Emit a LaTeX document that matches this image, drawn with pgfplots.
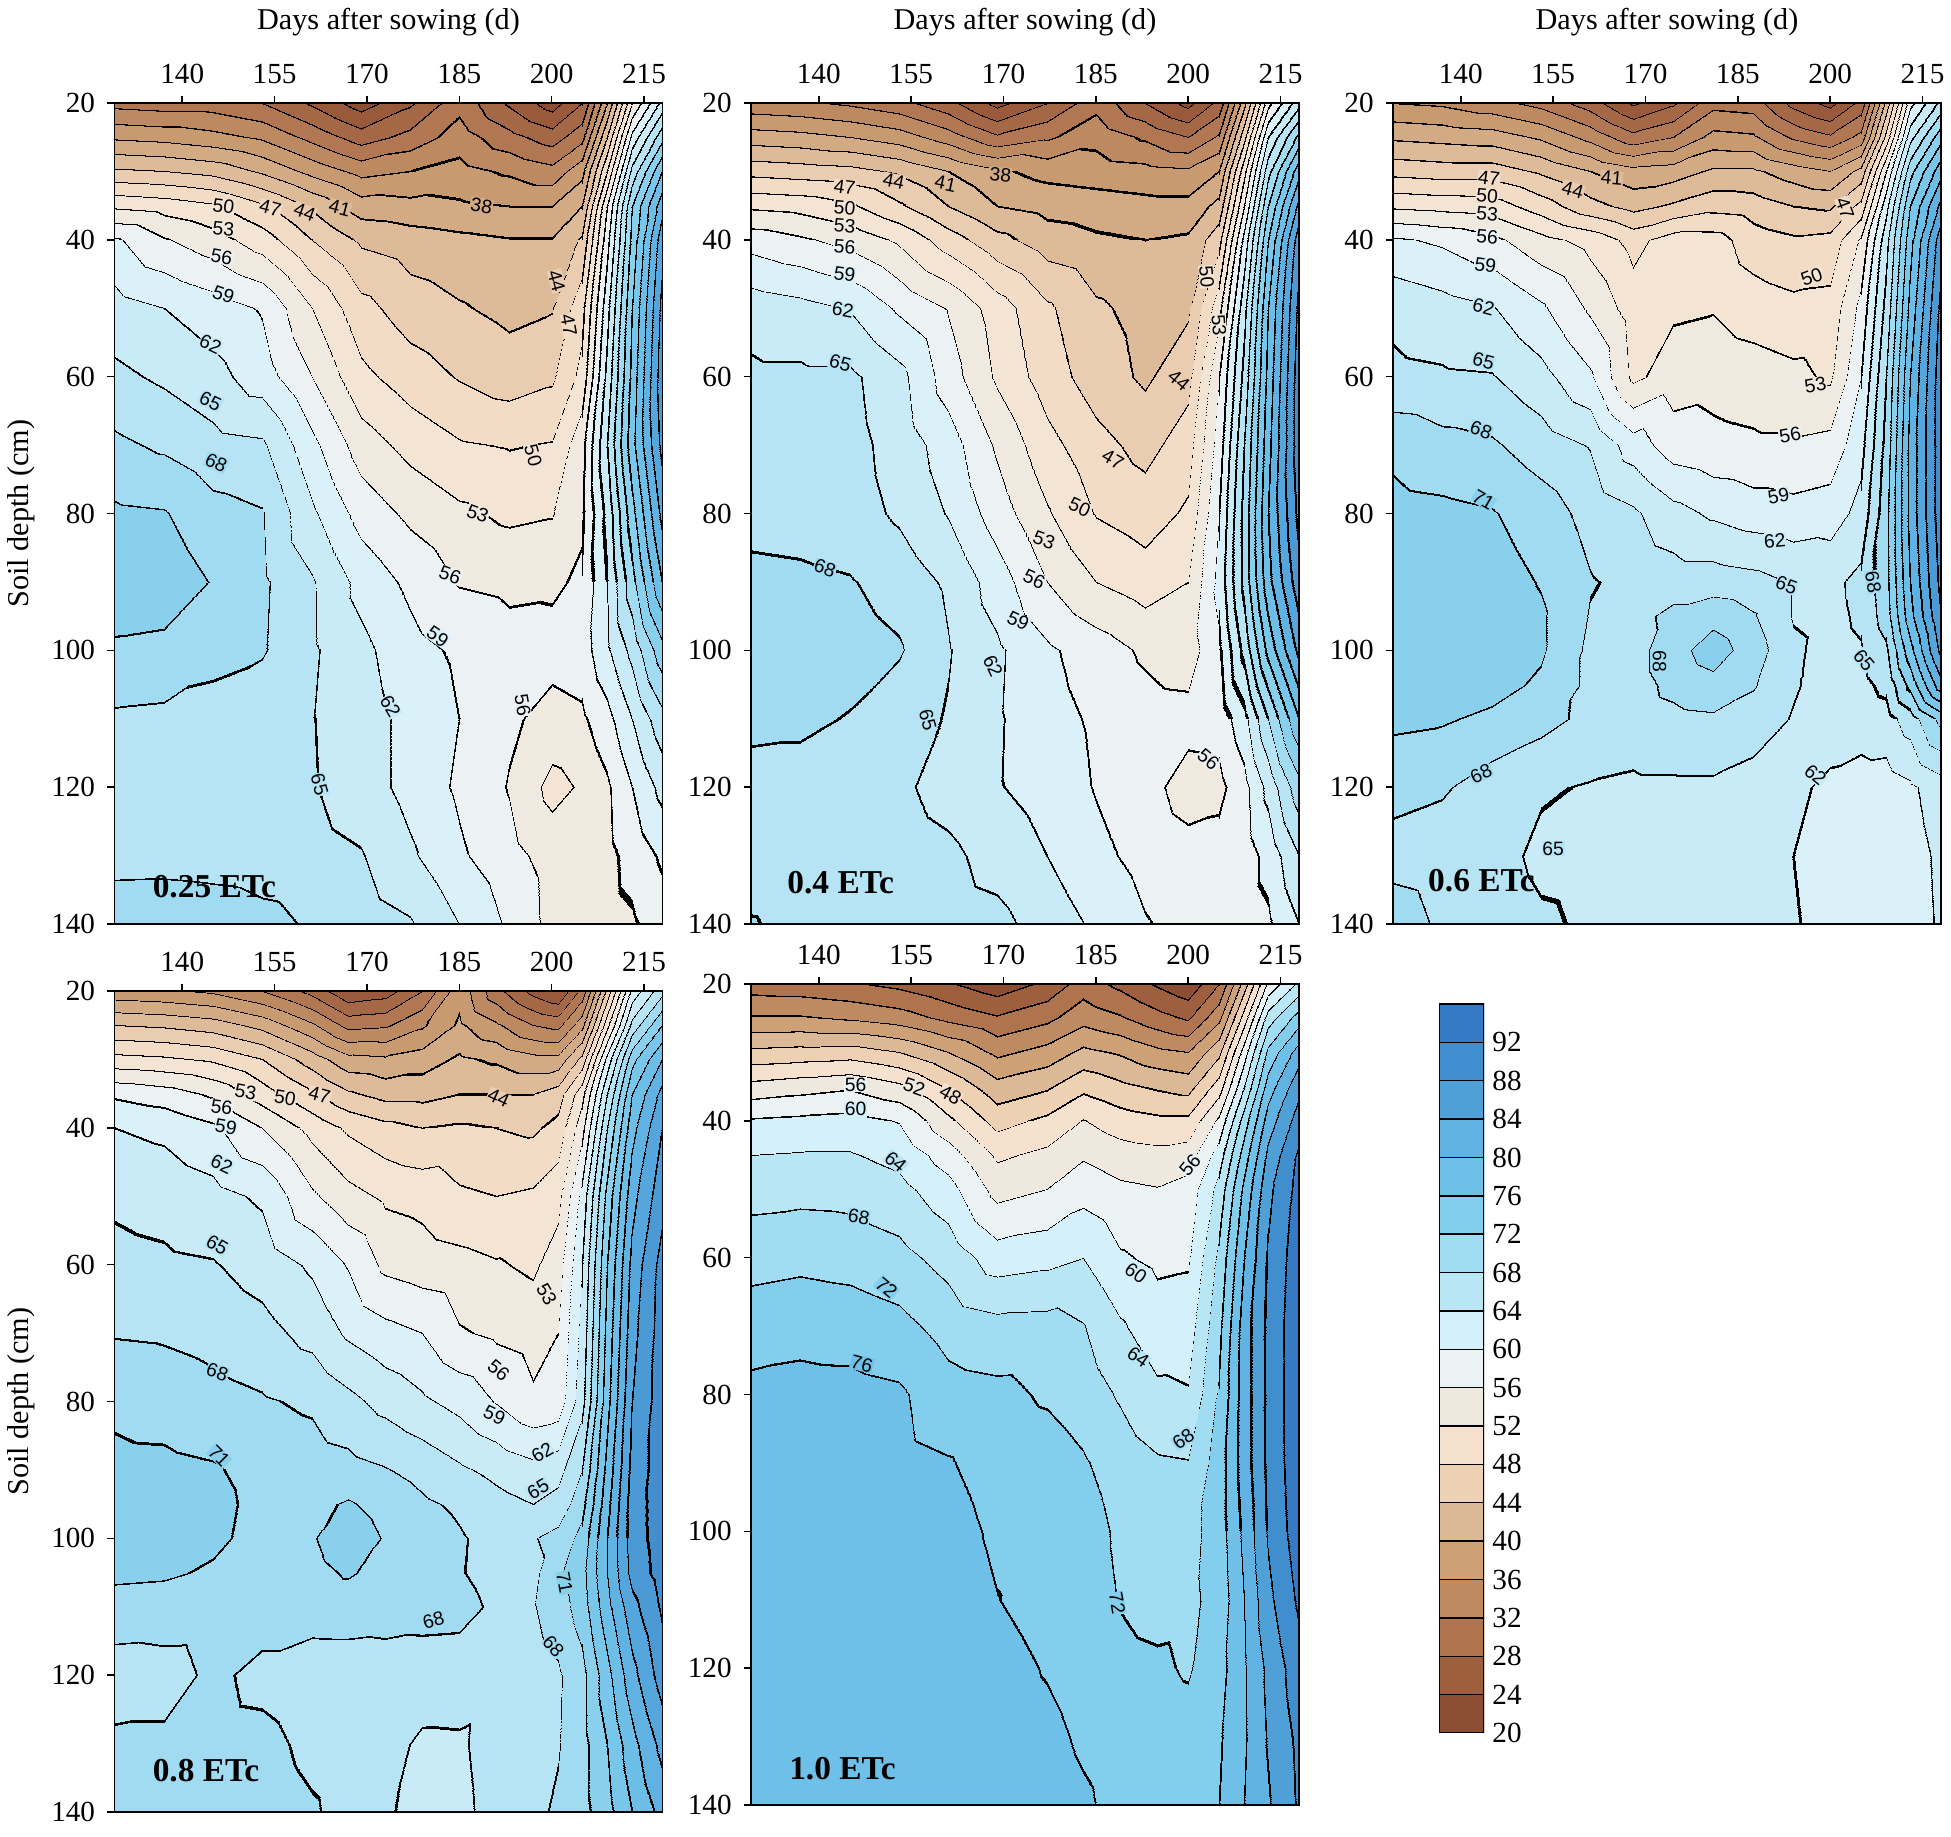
\documentclass[border=0pt]{standalone}
\usepackage{pgfplots}
\usepackage{pgfplotstable}
\pgfplotsset{compat=1.18}
\usepackage{fontspec}
\setmainfont{Liberation Serif}
\newfontfamily\labfont{Liberation Sans}

\definecolor{A20}{RGB}{140,78,50}\definecolor{A23}{RGB}{152,90,58}\definecolor{A26}{RGB}{164,104,70}
\definecolor{A29}{RGB}{176,119,82}\definecolor{A32}{RGB}{189,137,97}\definecolor{A35}{RGB}{200,154,112}
\definecolor{A38}{RGB}{210,170,132}\definecolor{A41}{RGB}{221,187,152}\definecolor{A44}{RGB}{234,205,176}
\definecolor{A47}{RGB}{243,220,198}\definecolor{A50}{RGB}{244,228,212}\definecolor{A53}{RGB}{239,233,224}
\definecolor{A56}{RGB}{236,242,243}\definecolor{A59}{RGB}{218,241,249}\definecolor{A62}{RGB}{200,235,247}
\definecolor{A65}{RGB}{182,228,244}\definecolor{A68}{RGB}{160,219,241}\definecolor{A71}{RGB}{137,208,237}
\definecolor{A74}{RGB}{120,198,234}\definecolor{A77}{RGB}{108,190,230}\definecolor{A80}{RGB}{96,178,226}
\definecolor{A83}{RGB}{85,166,220}\definecolor{A86}{RGB}{75,154,213}\definecolor{A89}{RGB}{66,142,206}
\definecolor{A92}{RGB}{57,125,198}\definecolor{A95}{RGB}{50,112,190}

\definecolor{B20}{RGB}{140,78,50}\definecolor{B24}{RGB}{158,95,62}\definecolor{B28}{RGB}{175,115,78}
\definecolor{B32}{RGB}{190,138,98}\definecolor{B36}{RGB}{205,160,118}\definecolor{B40}{RGB}{220,185,150}
\definecolor{B44}{RGB}{238,208,178}\definecolor{B48}{RGB}{245,225,205}\definecolor{B52}{RGB}{238,232,222}
\definecolor{B56}{RGB}{235,242,244}\definecolor{B60}{RGB}{212,240,250}\definecolor{B64}{RGB}{185,230,245}
\definecolor{B68}{RGB}{160,220,242}\definecolor{B72}{RGB}{130,206,236}\definecolor{B76}{RGB}{110,192,232}
\definecolor{B80}{RGB}{95,178,226}\definecolor{B84}{RGB}{80,160,216}\definecolor{B88}{RGB}{65,142,206}
\definecolor{B92}{RGB}{55,122,196}

% colormap builder: name, prefix, first level, list of line levels, end position, last level, half line width
\newcommand\mkcm[7]{%
  \gdef\cmspec{}%
  \foreach \L in {#4}{%
    \pgfmathsetmacro\cmlo{\L-#7}\pgfmathsetmacro\cmhi{\L+#7}%
    \xdef\cmspec{\cmspec color(\cmlo pt)=(black) color(\cmhi pt)=(#2\L) }%
  }%
  \edef\cmtmp{\noexpand\pgfplotsset{colormap={#1}{color(#3pt)=(#2#3) \cmspec color(#5pt)=(#2#6)}}}%
  \cmtmp
}
\mkcm{cmAa}{A}{20}{23,26,...,95}{98}{95}{0.04}
\mkcm{cmAb}{A}{20}{23,26,...,95}{98}{95}{0.11}
\mkcm{cmAc}{A}{20}{23,26,...,95}{98}{95}{0.15}
\mkcm{cmAd}{A}{20}{23,26,...,95}{98}{95}{0.28}
\mkcm{cmAe}{A}{20}{23,26,...,95}{98}{95}{0.33}
\mkcm{cmAf}{A}{20}{23,26,...,95}{98}{95}{0.4}
\mkcm{cmBa}{B}{20}{24,28,...,92}{96}{92}{0.045}
\mkcm{cmBb}{B}{20}{24,28,...,92}{96}{92}{0.15}
\mkcm{cmBc}{B}{20}{24,28,...,92}{96}{92}{0.17}
\mkcm{cmBd}{B}{20}{24,28,...,92}{96}{92}{0.37}

\pgfplotsset{
  panel/.style={
    scale only axis, width=54.8mm, height=82.1mm,
    xmin=129, xmax=218, ymin=20, ymax=140, y dir=reverse,
    xtick={140,155,170,185,200,215}, ytick={20,40,60,80,100,120,140},
    xtick pos=right, xticklabel pos=right, ytick pos=left, yticklabel pos=left,
    tick align=outside, major tick length=0.7mm,
    axis on top, axis line style={line width=0.45pt},
    every tick/.style={line width=0.45pt, black},
    tick label style={font=\fontsize{8.3}{9}\selectfont},
    /pgf/number format/assume math mode=true,
    xlabel style={font=\fontsize{8.6}{10}\selectfont, at={(axis description cs:0.5,1.099)}, anchor=center},
    ylabel style={font=\fontsize{8.6}{10}\selectfont, at={(axis description cs:-0.17,0.5)}, anchor=center},
    colormap access=piecewise constant,
    point meta min=20,
  },
  pA/.style={panel, colormap name=cmAa, point meta max=98},
  pB/.style={panel, colormap name=cmBa, point meta max=96},
  field/.style={surf, shader=interp, point meta=explicit, unbounded coords=jump},
}
\newcommand\cl[5]{\node[rotate=#3, fill=#5, inner sep=0.2pt, font=\labfont\fontsize{5.5}{6.2}\selectfont] at (axis cs:#1,#2) {#4};}
\newcommand\tagfont{\bfseries\fontsize{9.5}{11}\selectfont}
% one panel drawn in layers (same data), each with a line width suited to the local density of lines
% #1 table, #2 cols, #3 base map, #4 top map, #5 map 205-213, #6 map 213-218, #7 depth limit, #8 lower right map
\newcommand\layers[8]{%
  \addplot[field, mesh/cols=#2, colormap name=#3] table[x index=0, y index=1, meta index=2] {#1};
  \addplot[field, mesh/cols=#2, colormap name=#4, restrict x to domain=129:205, restrict y to domain=20:40] table[x index=0, y index=1, meta index=2] {#1};
  \addplot[field, mesh/cols=#2, colormap name=#5, restrict x to domain=205:213, restrict y to domain=20:#7] table[x index=0, y index=1, meta index=2] {#1};
  \addplot[field, mesh/cols=#2, colormap name=#6, restrict x to domain=213:218, restrict y to domain=20:#7] table[x index=0, y index=1, meta index=2] {#1};
  \addplot[field, mesh/cols=#2, colormap name=#8, restrict x to domain=205:218, restrict y to domain=#7:140] table[x index=0, y index=1, meta index=2] {#1};
}
% extra layer over a rectangle: table, cols, map, x from, x to, depth from, depth to
\newcommand\patch[7]{%
  \addplot[field, mesh/cols=#2, colormap name=#3, restrict x to domain=#4:#5, restrict y to domain=#6:#7] table[x index=0, y index=1, meta index=2] {#1};
}

% ---------------- data: x (days)  depth (cm)  water value
\pgfplotstableread[header=false, row sep=\\]{
129 20 31\\ 137 20 30.5\\ 145 20 30.5\\ 153 20 29\\ 161 20 25.5\\ 169 20 21.5\\ 177 20 25.5\\ 185 20 31\\ 193 20 25.5\\ 200 20 21.5\\ 205 20 26\\ 209 20 38\\ 213 20 53\\ 218 20 63\\
129 25 37.5\\ 137 25 37\\ 145 25 36\\ 153 25 34.5\\ 161 25 31\\ 169 25 27.5\\ 177 25 30\\ 185 25 33.5\\ 193 25 30\\ 200 25 27.5\\ 205 25 31\\ 209 25 44\\ 213 25 60\\ 218 25 70\\
129 30 44.5\\ 137 30 44\\ 145 30 43\\ 153 30 40.5\\ 161 30 37\\ 169 30 34\\ 177 30 35\\ 185 30 36\\ 193 30 34.5\\ 200 30 33\\ 205 30 37\\ 209 30 50\\ 213 30 66\\ 218 30 77\\
129 35 52.5\\ 137 35 51.8\\ 145 35 50.5\\ 153 35 47.5\\ 161 35 43.5\\ 169 35 39.5\\ 177 35 39\\ 185 35 38.5\\ 193 35 38\\ 200 35 38\\ 205 35 41\\ 209 35 56\\ 213 35 71\\ 218 35 82\\
129 40 59.5\\ 137 40 56.3\\ 145 40 54.3\\ 153 40 51.5\\ 161 40 47\\ 169 40 43.5\\ 177 40 42.5\\ 185 40 41.8\\ 193 40 41.2\\ 200 40 41.2\\ 205 40 44.5\\ 209 40 58\\ 213 40 72\\ 218 40 85\\
129 50 63.2\\ 137 50 62\\ 145 50 60.5\\ 153 50 58.7\\ 161 50 53\\ 169 50 48\\ 177 50 45.5\\ 185 50 44.3\\ 193 50 43.2\\ 200 50 43.8\\ 205 50 49\\ 209 50 61\\ 213 50 74\\ 218 50 87\\
129 60 65.7\\ 137 60 64.5\\ 145 60 63\\ 153 60 60.5\\ 161 60 56\\ 169 60 50.8\\ 177 60 48.5\\ 185 60 46.8\\ 193 60 45.5\\ 200 60 46.5\\ 205 60 51\\ 209 60 63\\ 213 60 75\\ 218 60 88\\
129 70 68.6\\ 137 70 67.5\\ 145 70 66\\ 153 70 65.5\\ 161 70 59.8\\ 169 70 54.5\\ 177 70 52\\ 185 70 50.3\\ 193 70 49.8\\ 200 70 50.2\\ 205 70 55\\ 209 70 65\\ 213 70 76\\ 218 70 87\\
129 80 71.5\\ 137 80 71.2\\ 145 80 69\\ 153 80 68.2\\ 161 80 62.5\\ 169 80 57.8\\ 177 80 55.3\\ 185 80 53.6\\ 193 80 52.4\\ 200 80 52.8\\ 205 80 55.5\\ 209 80 63\\ 213 80 73\\ 218 80 84\\
129 90 73\\ 137 90 72.8\\ 145 90 70.8\\ 153 90 68.5\\ 161 90 65.3\\ 169 90 61\\ 177 90 58.3\\ 185 90 55.8\\ 193 90 55.3\\ 200 90 55.5\\ 205 90 56.5\\ 209 90 62\\ 213 90 70\\ 218 90 80\\
129 100 70.5\\ 137 100 70.2\\ 145 100 68.8\\ 153 100 68.3\\ 161 100 65.4\\ 169 100 62.8\\ 177 100 60\\ 185 100 58.5\\ 193 100 57.2\\ 200 100 57\\ 205 100 57.5\\ 209 100 61.5\\ 213 100 66\\ 218 100 73\\
129 110 67.5\\ 137 110 67.3\\ 145 110 67\\ 153 110 66\\ 161 110 65.1\\ 169 110 63.5\\ 177 110 61\\ 185 110 59\\ 193 110 56.5\\ 200 110 55\\ 205 110 55.5\\ 209 110 58\\ 213 110 62\\ 218 110 67\\
129 120 66.5\\ 137 120 66.5\\ 145 120 66.3\\ 153 120 66\\ 161 120 65.2\\ 169 120 63.5\\ 177 120 61\\ 185 120 58.5\\ 193 120 55.8\\ 200 120 52\\ 205 120 53.4\\ 209 120 55.5\\ 213 120 59\\ 218 120 63\\
129 130 66.8\\ 137 130 66.9\\ 145 130 66.7\\ 153 130 66.4\\ 161 130 66\\ 169 130 65.2\\ 177 130 62.5\\ 185 130 59.5\\ 193 130 57\\ 200 130 54.8\\ 205 130 54.5\\ 209 130 55.2\\ 213 130 57\\ 218 130 59.5\\
129 140 70.2\\ 137 140 70.2\\ 145 140 69.9\\ 153 140 69\\ 161 140 67.6\\ 169 140 66.5\\ 177 140 65.3\\ 185 140 62\\ 193 140 58.5\\ 200 140 55\\ 205 140 54.8\\ 209 140 55\\ 213 140 55.6\\ 218 140 57.5\\
}\tabA

\pgfplotstableread[header=false, row sep=\\]{
129 20 33\\ 137 20 32.5\\ 145 20 31.5\\ 153 20 30\\ 161 20 27\\ 169 20 22\\ 177 20 26\\ 185 20 31\\ 193 20 26\\ 200 20 22\\ 205 20 27\\ 209 20 40\\ 213 20 55\\ 218 20 64\\
129 25 39.5\\ 137 25 39\\ 145 25 38\\ 153 25 36.5\\ 161 25 33.5\\ 169 25 29.5\\ 177 25 31.5\\ 185 25 34\\ 193 25 31.5\\ 200 25 29\\ 205 25 32.5\\ 209 25 46\\ 213 25 62\\ 218 25 72\\
129 30 46\\ 137 30 45.5\\ 145 30 45\\ 153 30 43.5\\ 161 30 41\\ 169 30 38.5\\ 177 30 37\\ 185 30 36.5\\ 193 30 36\\ 200 30 35.5\\ 205 30 38\\ 209 30 52\\ 213 30 67\\ 218 30 79\\
129 35 52.5\\ 137 35 52\\ 145 35 50.5\\ 153 35 47.5\\ 161 35 44\\ 169 35 41\\ 177 35 40\\ 185 35 39.5\\ 193 35 39\\ 200 35 39\\ 205 35 42\\ 209 35 56\\ 213 35 71\\ 218 35 84\\
129 40 57.8\\ 137 40 56.5\\ 145 40 55\\ 153 40 52.5\\ 161 40 48.5\\ 169 40 45\\ 177 40 42.5\\ 185 40 41.5\\ 193 40 41\\ 200 40 41.5\\ 205 40 46\\ 209 40 60\\ 213 40 74\\ 218 40 88\\
129 50 63.8\\ 137 50 63\\ 145 50 61.8\\ 153 50 58.5\\ 161 50 55.8\\ 169 50 51.5\\ 177 50 47.5\\ 185 50 44.5\\ 193 50 43\\ 200 50 43.5\\ 205 50 52\\ 209 50 64\\ 213 50 77\\ 218 50 90\\
129 60 65.6\\ 137 60 65.6\\ 145 60 65.6\\ 153 60 63\\ 161 60 57.5\\ 169 60 52.5\\ 177 60 48.5\\ 185 60 45.5\\ 193 60 43.5\\ 200 60 46\\ 205 60 56\\ 209 60 66\\ 213 60 78\\ 218 60 91\\
129 70 65.9\\ 137 70 66\\ 145 70 66\\ 153 70 63.8\\ 161 70 60.5\\ 169 70 55.5\\ 177 70 51\\ 185 70 48\\ 193 70 46\\ 200 70 48.5\\ 205 70 57.5\\ 209 70 68\\ 213 70 79\\ 218 70 91\\
129 80 67\\ 137 80 66.8\\ 145 80 66.3\\ 153 80 64.5\\ 161 80 61.8\\ 169 80 57.5\\ 177 80 53.3\\ 185 80 49.8\\ 193 80 48.5\\ 200 80 50.5\\ 205 80 59\\ 209 80 69\\ 213 80 80\\ 218 80 90\\
129 90 68.8\\ 137 90 68.6\\ 145 90 68.2\\ 153 90 66.8\\ 161 90 64.5\\ 169 90 60.5\\ 177 90 56\\ 185 90 53\\ 193 90 51.5\\ 200 90 53\\ 205 90 60\\ 209 90 69\\ 213 90 79\\ 218 90 88\\
129 100 70\\ 137 100 69.8\\ 145 100 69.3\\ 153 100 68.3\\ 161 100 65.2\\ 169 100 62.5\\ 177 100 59.5\\ 185 100 57.5\\ 193 100 55.5\\ 200 100 54.5\\ 205 100 58.5\\ 209 100 66\\ 213 100 75\\ 218 100 84\\
129 110 68.8\\ 137 110 68.6\\ 145 110 67.8\\ 153 110 66.2\\ 161 110 64.8\\ 169 110 62.3\\ 177 110 60.2\\ 185 110 58.5\\ 193 110 57.2\\ 200 110 57\\ 205 110 57.2\\ 209 110 61\\ 213 110 68\\ 218 110 77\\
129 120 66.8\\ 137 120 66.8\\ 145 120 66.8\\ 153 120 65.6\\ 161 120 63.8\\ 169 120 62.2\\ 177 120 60.8\\ 185 120 58.8\\ 193 120 57\\ 200 120 54.8\\ 205 120 55.2\\ 209 120 58\\ 213 120 63\\ 218 120 70\\
129 130 66.6\\ 137 130 66.4\\ 145 130 66.4\\ 153 130 66.6\\ 161 130 65.7\\ 169 130 63.8\\ 177 130 62\\ 185 130 59.8\\ 193 130 58\\ 200 130 57\\ 205 130 57.2\\ 209 130 57.5\\ 213 130 60\\ 218 130 65\\
129 140 68.2\\ 137 140 67.2\\ 145 140 66.8\\ 153 140 66.7\\ 161 140 66.5\\ 169 140 65.9\\ 177 140 63.6\\ 185 140 61.5\\ 193 140 59.2\\ 200 140 58\\ 205 140 57.5\\ 209 140 57.5\\ 213 140 58.5\\ 218 140 62\\
}\tabB

\pgfplotstableread[header=false, row sep=\\]{
129 20 35\\ 137 20 34.5\\ 145 20 33\\ 153 20 31\\ 161 20 27.5\\ 168 20 22.5\\ 174.5 20 25.5\\ 181 20 31\\ 187.5 20 30.5\\ 194 20 25\\ 200 20 22\\ 205 20 27\\ 209 20 42\\ 213 20 58\\ 218 20 66\\
129 25 40.5\\ 137 25 40\\ 145 25 39.5\\ 153 25 37.5\\ 161 25 34\\ 168 25 30\\ 174.5 25 32\\ 181 25 36\\ 187.5 25 35.5\\ 194 25 31.5\\ 200 25 29.5\\ 205 25 33\\ 209 25 48\\ 213 25 64\\ 218 25 73\\
129 30 46\\ 137 30 45.5\\ 145 30 45.5\\ 153 30 43.5\\ 161 30 41\\ 168 30 39\\ 174.5 30 39.5\\ 181 30 41.5\\ 187.5 30 41.5\\ 194 30 39.5\\ 200 30 38\\ 205 30 42\\ 209 30 56\\ 213 30 70\\ 218 30 79\\
129 35 52.5\\ 137 35 52\\ 145 35 51.5\\ 153 35 48.5\\ 161 35 45\\ 168 35 43\\ 174.5 35 44.5\\ 181 35 46\\ 187.5 35 45.5\\ 194 35 44\\ 200 35 43.5\\ 205 35 48\\ 209 35 61\\ 213 35 74\\ 218 35 84\\
129 40 59.5\\ 137 40 58.5\\ 145 40 56.8\\ 153 40 54\\ 161 40 52\\ 168 40 49\\ 174.5 40 51.5\\ 181 40 51.3\\ 187.5 40 48.5\\ 194 40 47.5\\ 200 40 48\\ 205 40 53.5\\ 209 40 64\\ 213 40 76\\ 218 40 88\\
129 50 64.2\\ 137 50 63.2\\ 145 50 62.2\\ 153 50 59.5\\ 161 50 55.5\\ 168 50 51.5\\ 174.5 50 52.5\\ 181 50 52.8\\ 187.5 50 51.5\\ 194 50 50.8\\ 200 50 51\\ 205 50 57\\ 209 50 66\\ 213 50 78\\ 218 50 90\\
129 60 65.7\\ 137 60 65.4\\ 145 60 65.2\\ 153 60 63\\ 161 60 59.5\\ 168 60 52.3\\ 174.5 60 54.5\\ 181 60 55\\ 187.5 60 54.5\\ 194 60 53.8\\ 200 60 52.5\\ 205 60 59\\ 209 60 68\\ 213 60 80\\ 218 60 91\\
129 70 70.2\\ 137 70 69\\ 145 70 68.4\\ 153 70 66.5\\ 161 70 64.8\\ 168 70 60.5\\ 174.5 70 57.5\\ 181 70 56.8\\ 187.5 70 56.5\\ 194 70 56.5\\ 200 70 57\\ 205 70 61\\ 209 70 69\\ 213 70 81\\ 218 70 91\\
129 80 72\\ 137 80 71.7\\ 145 80 71.2\\ 153 80 69.5\\ 161 80 67\\ 168 80 65.5\\ 174.5 80 63\\ 181 80 61.5\\ 187.5 80 60.5\\ 194 80 60\\ 200 80 60.5\\ 205 80 63\\ 209 80 70\\ 213 80 81\\ 218 80 91\\
129 90 73.2\\ 137 90 73\\ 145 90 72.4\\ 153 90 70.8\\ 161 90 68.2\\ 168 90 67.3\\ 174.5 90 66.5\\ 181 90 66.5\\ 187.5 90 66\\ 194 90 64.8\\ 200 90 64.3\\ 205 90 65.8\\ 209 90 70\\ 213 90 80\\ 218 90 90\\
129 95 73.5\\ 137 95 73.3\\ 145 95 72.8\\ 153 95 71.4\\ 161 95 67.8\\ 168 95 67\\ 174.5 95 68.8\\ 181 95 70\\ 187.5 95 68.3\\ 194 95 64.8\\ 200 95 64.2\\ 205 95 65.5\\ 209 95 69.5\\ 213 95 79\\ 218 95 89\\
129 100 73.4\\ 137 100 73.2\\ 145 100 72.6\\ 153 100 71.4\\ 161 100 67.3\\ 168 100 66.8\\ 174.5 100 69.8\\ 181 100 72.5\\ 187.5 100 69.5\\ 194 100 65.5\\ 200 100 64\\ 205 100 64.8\\ 209 100 67.5\\ 213 100 76\\ 218 100 87\\
129 105 73\\ 137 105 72.8\\ 145 105 72\\ 153 105 70.5\\ 161 105 67.3\\ 168 105 66.8\\ 174.5 105 68.8\\ 181 105 70\\ 187.5 105 68.3\\ 194 105 65.3\\ 200 105 63.8\\ 205 105 64.2\\ 209 105 65.8\\ 213 105 72\\ 218 105 82\\
129 110 71.6\\ 137 110 71.3\\ 145 110 70.4\\ 153 110 69\\ 161 110 67.2\\ 168 110 66.5\\ 174.5 110 67.2\\ 181 110 67.5\\ 187.5 110 66.5\\ 194 110 64.8\\ 200 110 63.5\\ 205 110 63.3\\ 209 110 63.8\\ 213 110 66.5\\ 218 110 72\\
129 120 69\\ 137 120 68.4\\ 145 120 66.5\\ 153 120 65.3\\ 161 120 64.8\\ 168 120 64.5\\ 174.5 120 64.5\\ 181 120 64.5\\ 187.5 120 63.8\\ 194 120 62.6\\ 200 120 61.4\\ 205 120 60.8\\ 209 120 60.6\\ 213 120 61.5\\ 218 120 63.5\\
129 130 66.8\\ 137 130 66.2\\ 145 130 66\\ 153 130 64.4\\ 161 130 64.2\\ 168 130 64.2\\ 174.5 130 64.3\\ 181 130 64\\ 187.5 130 63.3\\ 194 130 62\\ 200 130 61\\ 205 130 60.5\\ 209 130 60.4\\ 213 130 60.8\\ 218 130 62.6\\
129 140 69.8\\ 137 140 67.4\\ 145 140 66.6\\ 153 140 65.4\\ 161 140 64.6\\ 168 140 64.8\\ 174.5 140 64.8\\ 181 140 64.5\\ 187.5 140 63.5\\ 194 140 62.2\\ 200 140 61.2\\ 205 140 60.5\\ 209 140 60.4\\ 213 140 60.7\\ 218 140 62.4\\
}\tabC

\pgfplotstableread[header=false, row sep=\\]{
129 20 36\\ 137 20 35.5\\ 145 20 34.5\\ 153 20 32\\ 161 20 28\\ 167 20 23.5\\ 173 20 24.5\\ 179 20 29\\ 185 20 37\\ 191 20 30\\ 197 20 25\\ 201 20 23\\ 205 20 30\\ 209 20 45\\ 213 20 60\\ 218 20 67\\
129 25 44\\ 137 25 43.5\\ 145 25 42.5\\ 153 25 40\\ 161 25 35.5\\ 167 25 31\\ 173 25 31.5\\ 179 25 34.5\\ 185 25 38.5\\ 191 25 35.5\\ 197 25 32\\ 201 25 31\\ 205 25 37\\ 209 25 52\\ 213 25 66\\ 218 25 74\\
129 30 51\\ 137 30 50.5\\ 145 30 49.5\\ 153 30 47\\ 161 30 42.5\\ 167 30 39\\ 173 30 38.5\\ 179 30 39.5\\ 185 30 41.5\\ 191 30 40.5\\ 197 30 39\\ 201 30 39\\ 205 30 45\\ 209 30 60\\ 213 30 73\\ 218 30 80\\
129 35 58.5\\ 137 35 57.5\\ 145 35 55.5\\ 153 35 51.5\\ 161 35 47.5\\ 167 35 44.5\\ 173 35 43\\ 179 35 43\\ 185 35 44\\ 191 35 44\\ 197 35 44\\ 201 35 45.5\\ 205 35 52\\ 209 35 65\\ 213 35 77\\ 218 35 84\\
129 40 62\\ 137 40 61.3\\ 145 40 59.6\\ 153 40 56\\ 161 40 52\\ 167 40 49.5\\ 173 40 48\\ 179 40 47\\ 185 40 47.5\\ 191 40 47\\ 197 40 46.5\\ 201 40 48\\ 205 40 55\\ 209 40 68\\ 213 40 79\\ 218 40 86\\
129 50 64.5\\ 137 50 64\\ 145 50 63\\ 153 50 61.5\\ 161 50 56.5\\ 167 50 54\\ 173 50 52.5\\ 179 50 52\\ 185 50 50.5\\ 191 50 50\\ 197 50 50.5\\ 201 50 52\\ 205 50 60\\ 209 50 72\\ 213 50 82\\ 218 50 88\\
129 60 65.8\\ 137 60 65.5\\ 145 60 65.2\\ 153 60 63.8\\ 161 60 61.5\\ 167 60 58.8\\ 173 60 55.3\\ 179 60 54.5\\ 185 60 54\\ 191 60 53.3\\ 197 60 52.5\\ 201 60 54.5\\ 205 60 62\\ 209 60 74\\ 213 60 84\\ 218 60 90.2\\
129 70 67.8\\ 137 70 67.6\\ 145 70 67\\ 153 70 66\\ 161 70 64\\ 167 70 61.5\\ 173 70 60\\ 179 70 59\\ 185 70 56.3\\ 191 70 55.5\\ 197 70 54.8\\ 201 70 56\\ 205 70 63\\ 209 70 75\\ 213 70 85\\ 218 70 90.5\\
129 80 70.3\\ 137 80 69.8\\ 145 80 69\\ 153 80 68.3\\ 161 80 67.5\\ 167 80 65.8\\ 173 80 64\\ 179 80 62.5\\ 185 80 61\\ 191 80 58.8\\ 197 80 56.5\\ 201 80 57\\ 205 80 64\\ 209 80 76\\ 213 80 86\\ 218 80 90.7\\
129 90 71.8\\ 137 90 71.7\\ 145 90 71.3\\ 153 90 70\\ 161 90 69.5\\ 167 90 69\\ 173 90 68.2\\ 179 90 67\\ 185 90 65.5\\ 191 90 64.2\\ 197 90 63\\ 201 90 64\\ 205 90 68\\ 209 90 78\\ 213 90 87\\ 218 90 90.7\\
129 95 72.5\\ 137 95 72.4\\ 145 95 71.8\\ 153 95 70.2\\ 161 95 70.3\\ 167 95 71.3\\ 173 95 70\\ 179 95 68.5\\ 185 95 67.5\\ 191 95 66\\ 197 95 65\\ 201 95 66\\ 205 95 70\\ 209 95 79\\ 213 95 87.5\\ 218 95 90.6\\
129 100 72.5\\ 137 100 72.3\\ 145 100 71.6\\ 153 100 70\\ 161 100 70.8\\ 167 100 72.5\\ 173 100 70.8\\ 179 100 69.5\\ 185 100 68.3\\ 191 100 67\\ 197 100 67.8\\ 201 100 69\\ 205 100 72\\ 209 100 80\\ 213 100 87.5\\ 218 100 90.5\\
129 105 71.6\\ 137 105 71.4\\ 145 105 70.6\\ 153 105 69.3\\ 161 105 70.2\\ 167 105 71.3\\ 173 105 70\\ 179 105 69\\ 185 105 68.2\\ 191 105 67\\ 197 105 67.2\\ 201 105 70.5\\ 205 105 73\\ 209 105 80\\ 213 105 87\\ 218 105 90.3\\
129 110 69.8\\ 137 110 69.6\\ 145 110 69.5\\ 153 110 69.4\\ 161 110 69.4\\ 167 110 69.5\\ 173 110 69.3\\ 179 110 69\\ 185 110 68.9\\ 191 110 67.5\\ 197 110 67.8\\ 201 110 69.5\\ 205 110 72.5\\ 209 110 79\\ 213 110 85\\ 218 110 89.5\\
129 120 66.5\\ 137 120 66.8\\ 145 120 68.6\\ 153 120 67.2\\ 161 120 66.3\\ 167 120 66.3\\ 173 120 66.5\\ 179 120 66.6\\ 185 120 66.5\\ 191 120 66\\ 197 120 66.8\\ 201 120 67.6\\ 205 120 70\\ 209 120 76\\ 213 120 82\\ 218 120 87.5\\
129 130 68.6\\ 137 130 68.6\\ 145 130 69\\ 153 130 68.8\\ 161 130 67.3\\ 167 130 66.8\\ 173 130 66\\ 179 130 64.5\\ 185 130 64.6\\ 191 130 66.2\\ 197 130 67\\ 201 130 67.8\\ 205 130 70\\ 209 130 74\\ 213 130 79\\ 218 130 84\\
129 140 69\\ 137 140 69.2\\ 145 140 69.6\\ 153 140 69.4\\ 161 140 68.3\\ 167 140 67\\ 173 140 65.3\\ 179 140 64.2\\ 185 140 64.3\\ 191 140 66\\ 197 140 67.4\\ 201 140 68.4\\ 205 140 70\\ 209 140 73\\ 213 140 77\\ 218 140 81\\
}\tabD

\pgfplotstableread[header=false, row sep=\\]{
129 20 30\\ 137 20 29.5\\ 145 20 28.5\\ 153 20 27\\ 161 20 24.5\\ 169 20 21.5\\ 177 20 25\\ 183 20 30\\ 189 20 27\\ 195 20 23.5\\ 200 20 21\\ 205 20 28\\ 209 20 42\\ 213 20 57\\ 218 20 65\\
129 25 36.5\\ 137 25 36.5\\ 145 25 35.5\\ 153 25 34\\ 161 25 31\\ 169 25 28.5\\ 177 25 31\\ 183 25 34.5\\ 189 25 32.5\\ 195 25 29.5\\ 200 25 27.5\\ 205 25 35\\ 209 25 50\\ 213 25 66\\ 218 25 74\\
129 30 45\\ 137 30 45.5\\ 145 30 46\\ 153 30 44\\ 161 30 40\\ 169 30 35\\ 177 30 37.5\\ 183 30 41\\ 189 30 39.5\\ 195 30 37\\ 200 30 36\\ 205 30 43\\ 209 30 58\\ 213 30 73\\ 218 30 82\\
129 35 53.5\\ 137 35 54.5\\ 145 35 55.5\\ 153 35 53\\ 161 35 47.5\\ 169 35 41.5\\ 177 35 43.5\\ 183 35 47\\ 189 35 45\\ 195 35 43.5\\ 200 35 42.5\\ 205 35 50\\ 209 35 64\\ 213 35 78\\ 218 35 87\\
129 40 60.5\\ 137 40 61\\ 145 40 61.5\\ 153 40 59.8\\ 161 40 53\\ 169 40 46.5\\ 177 40 49\\ 183 40 52.2\\ 189 40 50\\ 195 40 49\\ 200 40 49\\ 205 40 57\\ 209 40 70\\ 213 40 82\\ 218 40 90\\
129 45 64\\ 137 45 64.3\\ 145 45 64.3\\ 153 45 62.8\\ 161 45 58\\ 169 45 51.3\\ 177 45 53\\ 183 45 55.5\\ 189 45 53.8\\ 195 45 53.2\\ 200 45 54\\ 205 45 62\\ 209 45 74\\ 213 45 85\\ 218 45 92.8\\
129 50 66.5\\ 137 50 66.8\\ 145 50 66.6\\ 153 50 65.2\\ 161 50 61.5\\ 169 50 54.5\\ 177 50 56\\ 183 50 58.5\\ 189 50 56.8\\ 195 50 56.2\\ 200 50 57.5\\ 205 50 65.5\\ 209 50 77\\ 213 50 87\\ 218 50 93.5\\
129 60 70.5\\ 137 60 71\\ 145 60 70.5\\ 153 60 69.3\\ 161 60 66.5\\ 169 60 62\\ 177 60 62.8\\ 183 60 64\\ 189 60 60.5\\ 195 60 59.2\\ 200 60 59.5\\ 205 60 69\\ 209 60 80\\ 213 60 88.5\\ 218 60 94.5\\
129 70 74.2\\ 137 70 74.7\\ 145 70 74.3\\ 153 70 73.2\\ 161 70 70.5\\ 169 70 69.3\\ 177 70 69.5\\ 183 70 68.2\\ 189 70 64.5\\ 195 70 61.8\\ 200 70 62\\ 205 70 71\\ 209 70 82\\ 213 70 89\\ 218 70 95\\
129 80 77\\ 137 80 77.3\\ 145 80 77.2\\ 153 80 76.6\\ 161 80 73.5\\ 169 80 73\\ 177 80 71.5\\ 183 80 70.2\\ 189 80 67.5\\ 195 80 64.8\\ 200 80 64.3\\ 205 80 72.5\\ 209 80 82\\ 213 80 89\\ 218 80 95\\
129 90 77.8\\ 137 90 78\\ 145 90 78\\ 153 90 77.2\\ 161 90 76.3\\ 169 90 74.3\\ 177 90 73.8\\ 183 90 72.4\\ 189 90 70.2\\ 195 90 68.5\\ 200 90 68.2\\ 205 90 74\\ 209 90 82\\ 213 90 89\\ 218 90 94.8\\
129 100 78.2\\ 137 100 78.3\\ 145 100 78.3\\ 153 100 78\\ 161 100 77.5\\ 169 100 75.3\\ 177 100 74.6\\ 183 100 73.8\\ 189 100 71.3\\ 195 100 70\\ 200 100 70.5\\ 205 100 74\\ 209 100 81\\ 213 100 88.5\\ 218 100 94.3\\
129 110 78.3\\ 137 110 78.4\\ 145 110 78.4\\ 153 110 78.3\\ 161 110 78.2\\ 169 110 76.1\\ 177 110 74.4\\ 183 110 74\\ 189 110 71.8\\ 195 110 70.8\\ 200 110 71\\ 205 110 73.5\\ 209 110 80\\ 213 110 87\\ 218 110 92.8\\
129 120 78.5\\ 137 120 78.6\\ 145 120 78.6\\ 153 120 78.5\\ 161 120 78.4\\ 169 120 77.5\\ 177 120 75.7\\ 183 120 74.3\\ 189 120 73\\ 195 120 72.6\\ 200 120 71.6\\ 205 120 74.5\\ 209 120 79.5\\ 213 120 85\\ 218 120 90.5\\
129 130 78.7\\ 137 130 78.8\\ 145 130 78.8\\ 153 130 78.7\\ 161 130 78.6\\ 169 130 78.2\\ 177 130 77\\ 183 130 75.4\\ 189 130 74.3\\ 195 130 73.8\\ 200 130 73.5\\ 205 130 75.5\\ 209 130 79.5\\ 213 130 84.4\\ 218 130 89\\
129 140 79\\ 137 140 79\\ 145 140 79\\ 153 140 79\\ 161 140 78.8\\ 169 140 78.6\\ 177 140 77.9\\ 183 140 76.6\\ 189 140 74.8\\ 195 140 74.6\\ 200 140 74.5\\ 205 140 76\\ 209 140 80\\ 213 140 83.6\\ 218 140 88.6\\
}\tabE

\begin{document}
\begin{tikzpicture}
\useasboundingbox (0,0) rectangle (195.1mm,183.7mm);

% ---------------- 0.25 ETc
\begin{axis}[pA, at={(11.45mm,91.3mm)}, anchor=south west, xlabel={Days after sowing (d)}, ylabel={Soil depth (cm)}]
\layers{\tabA}{14}{cmAa}{cmAb}{cmAf}{cmAd}{90}{cmAb}
\patch{\tabA}{14}{cmAc}{209}{218}{90}{100}
\cl{146.7}{35.1}{-8}{50}{A50}\cl{154.3}{35.4}{-15}{47}{A47}\cl{159.9}{35.9}{-20}{44}{A44}
\cl{165.6}{35.3}{-15}{41}{A41}\cl{188.6}{35}{-10}{38}{A38}\cl{146.7}{38.4}{-5}{53}{A53}
\cl{146.4}{42.5}{-10}{56}{A56}\cl{146.7}{48}{-20}{59}{A59}\cl{144.6}{55.3}{-25}{62}{A62}
\cl{144.6}{63.6}{-25}{65}{A65}\cl{145.5}{72.6}{-25}{68}{A68}\cl{200.8}{46}{-75}{44}{A44}
\cl{202.8}{52.5}{-80}{47}{A47}\cl{197}{71.5}{-75}{50}{A50}\cl{188}{80}{-20}{53}{A53}
\cl{183.5}{89}{-20}{56}{A56}\cl{181.5}{98}{-35}{59}{A59}\cl{173.8}{108.2}{-60}{62}{A62}
\cl{162.3}{119.6}{-75}{65}{A65}\cl{195.3}{108}{-80}{56}{A56}
\node[anchor=west, font=\tagfont] at (axis cs:133.2,134.6) {0.25 ETc};
\end{axis}

% ---------------- 0.4 ETc
\begin{axis}[pA, at={(75.1mm,91.3mm)}, anchor=south west, xlabel={Days after sowing (d)}]
\layers{\tabB}{14}{cmAa}{cmAb}{cmAf}{cmAe}{110}{cmAb}
\cl{144.2}{32.3}{-8}{47}{A47}\cl{152.2}{31.4}{-12}{44}{A44}\cl{160.6}{31.8}{-12}{41}{A41}
\cl{169.5}{30.5}{-5}{38}{A38}\cl{144.2}{35.3}{-5}{50}{A50}\cl{144.2}{38}{-5}{53}{A53}
\cl{144.2}{41}{-5}{56}{A56}\cl{144.2}{45}{-8}{59}{A59}\cl{143.9}{50.2}{-10}{62}{A62}
\cl{143.5}{58}{-15}{65}{A65}\cl{141}{88}{-20}{68}{A68}\cl{187.8}{72.1}{-30}{47}{A47}
\cl{182.4}{79.1}{-25}{50}{A50}\cl{176.6}{83.9}{-20}{53}{A53}\cl{175}{89.6}{-25}{56}{A56}
\cl{172.4}{95.7}{-25}{59}{A59}\cl{168.3}{102.3}{-65}{62}{A62}\cl{157.7}{110.2}{-75}{65}{A65}
\cl{198.5}{60.5}{-40}{44}{A44}\cl{203}{45.4}{-85}{50}{A50}\cl{205}{52.5}{-85}{53}{A53}
\cl{203.3}{115.9}{-40}{56}{A56}
\node[anchor=west, font=\tagfont] at (axis cs:132.9,134) {0.4 ETc};
\end{axis}

% ---------------- 0.6 ETc
\begin{axis}[pA, at={(139.3mm,91.3mm)}, anchor=south west, xlabel={Days after sowing (d)}]
\layers{\tabC}{15}{cmAa}{cmAb}{cmAe}{cmAd}{90}{cmAb}
\patch{\tabC}{15}{cmAd}{209}{218}{90}{110}
\patch{\tabC}{15}{cmAa}{205}{218}{110}{140}
\cl{144.6}{31}{-8}{47}{A47}\cl{158.2}{32.7}{-15}{44}{A44}\cl{164.5}{31}{-5}{41}{A41}
\cl{144.3}{33.6}{-5}{50}{A50}\cl{144.3}{36.2}{-5}{53}{A53}\cl{144.3}{39.5}{-5}{56}{A56}
\cl{144}{43.7}{-8}{59}{A59}\cl{143.7}{49.8}{-15}{62}{A62}\cl{143.7}{57.7}{-15}{65}{A65}
\cl{143.3}{67.8}{-20}{68}{A68}\cl{143.7}{78}{-30}{71}{A71}\cl{202.4}{35.4}{-70}{47}{A47}
\cl{197}{45.4}{20}{50}{A50}\cl{197.6}{61.2}{10}{53}{A53}\cl{193.5}{68.5}{10}{56}{A56}
\cl{191.6}{77.5}{10}{59}{A59}\cl{191}{84}{5}{62}{A62}\cl{192.9}{90.5}{-20}{65}{A65}
\cl{207}{90}{-80}{68}{A68}\cl{205.5}{101.5}{-50}{65}{A65}\cl{172.3}{101.6}{-90}{68}{A68}
\cl{143.3}{118}{25}{68}{A68}\cl{155}{129}{0}{65}{A65}\cl{197.6}{118.2}{-40}{62}{A62}
\node[anchor=west, font=\tagfont] at (axis cs:132.7,133.6) {0.6 ETc};
\end{axis}

% ---------------- 0.8 ETc
\begin{axis}[pA, at={(11.45mm,2.5mm)}, anchor=south west, ylabel={Soil depth (cm)}]
\layers{\tabD}{16}{cmAa}{cmAb}{cmAe}{cmAc}{100}{cmAc}
\cl{150.3}{34.8}{-10}{53}{A53}\cl{156.7}{35.6}{-10}{50}{A50}\cl{162.3}{35.2}{-15}{47}{A47}
\cl{191.4}{35.6}{-25}{44}{A44}\cl{146.4}{37}{-8}{56}{A56}\cl{147.1}{39.8}{-10}{59}{A59}
\cl{146.4}{45.3}{-25}{62}{A62}\cl{145.7}{57.1}{-30}{65}{A65}\cl{145.7}{75.7}{-20}{68}{A68}
\cl{146}{88}{-45}{71}{A71}\cl{199.2}{64.3}{-60}{53}{A53}\cl{191.4}{75.5}{-40}{56}{A56}
\cl{190.7}{82}{-25}{59}{A59}\cl{198.5}{87.5}{30}{62}{A62}\cl{197.8}{92.8}{30}{65}{A65}
\cl{180.8}{112}{15}{68}{A68}\cl{202.1}{106.5}{-80}{71}{A71}\cl{200.3}{115.8}{-50}{68}{A68}
\node[anchor=west, font=\tagfont] at (axis cs:133.2,133.9) {0.8 ETc};
\end{axis}

% ---------------- 1.0 ETc
\begin{axis}[pB, at={(75.1mm,3.2mm)}, anchor=south west]
\layers{\tabE}{15}{cmBa}{cmBb}{cmBd}{cmBc}{100}{cmBb}
\cl{146}{34.7}{0}{56}{B56}\cl{146}{38.3}{0}{60}{B60}\cl{155.5}{35.1}{-20}{52}{B52}
\cl{161.4}{36.2}{-30}{48}{B48}\cl{152.5}{46}{-40}{64}{B64}\cl{146.5}{54}{-10}{68}{B68}
\cl{151}{64.4}{-40}{72}{B72}\cl{147}{75.5}{-15}{76}{B76}\cl{200.3}{46.5}{50}{56}{B56}
\cl{191.5}{62.3}{-35}{60}{B60}\cl{191.9}{74.6}{-35}{64}{B64}\cl{199.2}{86.5}{35}{68}{B68}
\cl{188.5}{110.5}{-80}{72}{B72}
\node[anchor=west, font=\tagfont] at (axis cs:133.2,134.7) {1.0 ETc};
\end{axis}

% ---------------- colour bar
\begin{axis}[at={(143.9mm,10.4mm)}, anchor=south west, scale only axis, width=4.5mm, height=72.9mm,
  xmin=0, xmax=1, ymin=20, ymax=96, ytick={20,24,...,92}, xtick=\empty,
  ytick pos=right, yticklabel pos=right, major tick length=0pt, axis line style={draw=none},
  yticklabel style={font=\fontsize{8.3}{9}\selectfont, xshift=-0.4mm},
  /pgf/number format/assume math mode=true]
\addplot[fill=B20, draw=black, line width=0.4pt] coordinates {(0,20) (1,20) (1,24) (0,24) (0,20)};
\addplot[fill=B24, draw=black, line width=0.4pt] coordinates {(0,24) (1,24) (1,28) (0,28) (0,24)};
\addplot[fill=B28, draw=black, line width=0.4pt] coordinates {(0,28) (1,28) (1,32) (0,32) (0,28)};
\addplot[fill=B32, draw=black, line width=0.4pt] coordinates {(0,32) (1,32) (1,36) (0,36) (0,32)};
\addplot[fill=B36, draw=black, line width=0.4pt] coordinates {(0,36) (1,36) (1,40) (0,40) (0,36)};
\addplot[fill=B40, draw=black, line width=0.4pt] coordinates {(0,40) (1,40) (1,44) (0,44) (0,40)};
\addplot[fill=B44, draw=black, line width=0.4pt] coordinates {(0,44) (1,44) (1,48) (0,48) (0,44)};
\addplot[fill=B48, draw=black, line width=0.4pt] coordinates {(0,48) (1,48) (1,52) (0,52) (0,48)};
\addplot[fill=B52, draw=black, line width=0.4pt] coordinates {(0,52) (1,52) (1,56) (0,56) (0,52)};
\addplot[fill=B56, draw=black, line width=0.4pt] coordinates {(0,56) (1,56) (1,60) (0,60) (0,56)};
\addplot[fill=B60, draw=black, line width=0.4pt] coordinates {(0,60) (1,60) (1,64) (0,64) (0,60)};
\addplot[fill=B64, draw=black, line width=0.4pt] coordinates {(0,64) (1,64) (1,68) (0,68) (0,64)};
\addplot[fill=B68, draw=black, line width=0.4pt] coordinates {(0,68) (1,68) (1,72) (0,72) (0,68)};
\addplot[fill=B72, draw=black, line width=0.4pt] coordinates {(0,72) (1,72) (1,76) (0,76) (0,72)};
\addplot[fill=B76, draw=black, line width=0.4pt] coordinates {(0,76) (1,76) (1,80) (0,80) (0,76)};
\addplot[fill=B80, draw=black, line width=0.4pt] coordinates {(0,80) (1,80) (1,84) (0,84) (0,80)};
\addplot[fill=B84, draw=black, line width=0.4pt] coordinates {(0,84) (1,84) (1,88) (0,88) (0,84)};
\addplot[fill=B88, draw=black, line width=0.4pt] coordinates {(0,88) (1,88) (1,92) (0,92) (0,88)};
\addplot[fill=B92, draw=black, line width=0.4pt] coordinates {(0,92) (1,92) (1,96) (0,96) (0,92)};
\end{axis}
\end{tikzpicture}
\end{document}
